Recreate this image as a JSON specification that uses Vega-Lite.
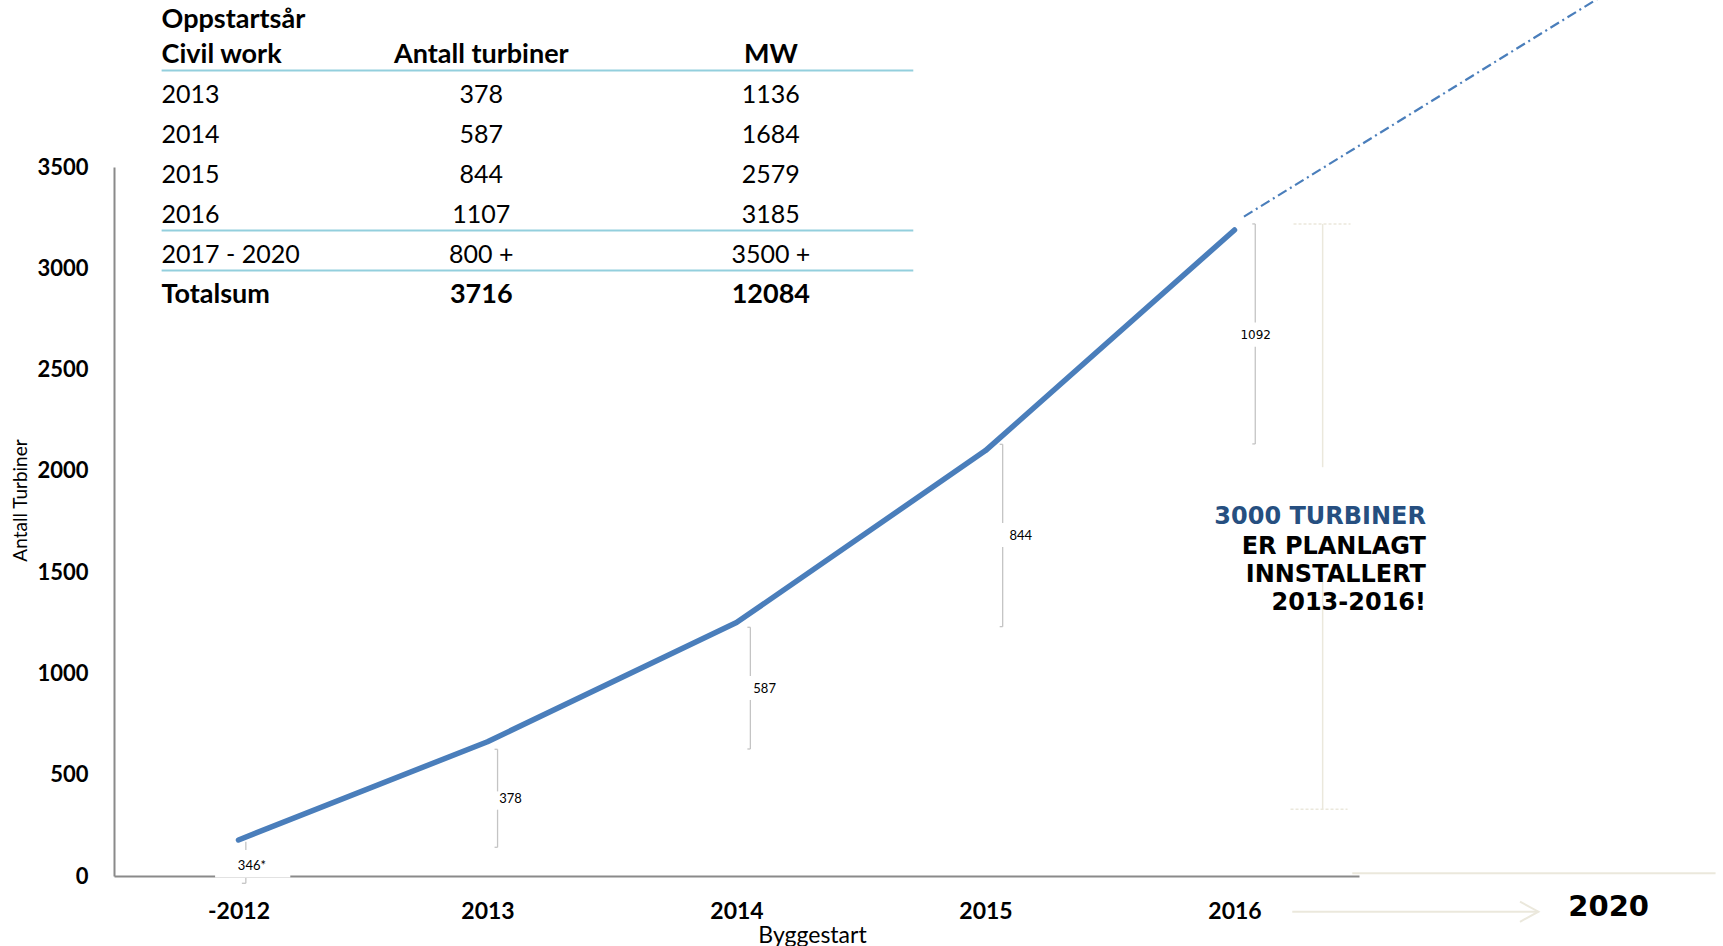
{
  "$schema": "https://vega.github.io/schema/vega-lite/v6.json",
  "width": 1245,
  "height": 709,
  "autosize": {"type": "none"},
  "padding": {"left": 114, "top": 167, "right": 364, "bottom": 70},
  "background": "white",
  "config": {"view": {"stroke": null}, "font": "Lato"},
  "datasets": {
    "trend": [
      {"start": "-2012", "pos": 0, "turbiner": 178},
      {"start": "2013", "pos": 1, "turbiner": 663},
      {"start": "2014", "pos": 2, "turbiner": 1251},
      {"start": "2015", "pos": 3, "turbiner": 2100},
      {"start": "2016", "pos": 4, "turbiner": 3189}
    ],
    "projection": [
      {"pos": 4.038, "turbiner": 3255},
      {"pos": 5.55, "turbiner": 4400}
    ],
    "bracketSegs": [
      {"label": "346*", "pos": 0.0295, "from": 169, "to": -36},
      {"label": "378", "pos": 1.0404, "from": 625.5, "to": 417.7},
      {"label": "378", "pos": 1.0404, "from": 327.4, "to": 141.7},
      {"label": "587", "pos": 2.0557, "from": 1227.8, "to": 987.4},
      {"label": "587", "pos": 2.0557, "from": 869, "to": 627},
      {"label": "844", "pos": 3.069, "from": 2131, "to": 1743},
      {"label": "844", "pos": 3.069, "from": 1624, "to": 1231},
      {"label": "1092", "pos": 4.0834, "from": 3219, "to": 2732},
      {"label": "1092", "pos": 4.0834, "from": 2613, "to": 2133}
    ],
    "bracketCaps": [
      {"label": "346*", "x1": 0.0135, "x2": 0.0295, "v": -36},
      {"label": "378", "x1": 1.0284, "x2": 1.0404, "v": 625.5},
      {"label": "378", "x1": 1.0284, "x2": 1.0404, "v": 141.7},
      {"label": "587", "x1": 2.0437, "x2": 2.0557, "v": 1227.8},
      {"label": "587", "x1": 2.0437, "x2": 2.0557, "v": 627},
      {"label": "844", "x1": 3.057, "x2": 3.069, "v": 2131},
      {"label": "844", "x1": 3.057, "x2": 3.069, "v": 1231},
      {"label": "1092", "x1": 4.0714, "x2": 4.0834, "v": 3219},
      {"label": "1092", "x1": 4.0714, "x2": 4.0834, "v": 2133}
    ],
    "bracketLabels": [
      {"label": "346*", "pos": 0.054, "v": 49},
      {"label": "378", "pos": 1.047, "v": 380},
      {"label": "587", "pos": 2.0675, "v": 923},
      {"label": "844", "pos": 3.0965, "v": 1679},
      {"label": "1092", "pos": 4.085, "v": 2672}
    ],
    "planSegs": [
      {"pos": 4.354, "from": 3219, "to": 2018},
      {"pos": 4.354, "from": 1471, "to": 329}
    ],
    "planCaps": [
      {"x1": 4.237, "x2": 4.466, "v": 3219},
      {"x1": 4.225, "x2": 4.454, "v": 329}
    ],
    "futureLines": [
      {"part": "axis", "x1": 4.473, "x2": 5.932, "v": 13},
      {"part": "arrow", "x1": 4.232, "x2": 5.2205, "v": -176}
    ],
    "chevron": [
      {"o": 0, "pos": 5.1465, "v": -127},
      {"o": 1, "pos": 5.2205, "v": -176},
      {"o": 2, "pos": 5.1465, "v": -226}
    ],
    "note": [
      {"text": "3000 TURBINER", "v": 1774, "tone": "accent"},
      {"text": "ER PLANLAGT", "v": 1626, "tone": "plain"},
      {"text": "INNSTALLERT", "v": 1486, "tone": "plain"},
      {"text": "2013-2016!", "v": 1346, "tone": "plain"}
    ],
    "table": [
      {"row": 0.125, "c0": "Oppstartsår", "c1": "", "c2": "", "head": true},
      {"row": 1, "c0": "Civil work", "c1": "Antall turbiner", "c2": "MW", "head": true},
      {"row": 2, "c0": "2013", "c1": "378", "c2": "1136", "head": false},
      {"row": 3, "c0": "2014", "c1": "587", "c2": "1684", "head": false},
      {"row": 4, "c0": "2015", "c1": "844", "c2": "2579", "head": false},
      {"row": 5, "c0": "2016", "c1": "1107", "c2": "3185", "head": false},
      {"row": 6, "c0": "2017 - 2020", "c1": "800 +", "c2": "3500 +", "head": false},
      {"row": 7, "c0": "Totalsum", "c1": "3716", "c2": "12084", "head": true}
    ],
    "tableLines": [
      {"x1": -0.3088, "x2": 2.71, "row": 1.39},
      {"x1": -0.3088, "x2": 2.71, "row": 5.39},
      {"x1": -0.3088, "x2": 2.71, "row": 6.39}
    ]
  },
  "layer": [
    {
      "layer": [
        {
          "data": {"name": "bracketSegs"},
          "mark": {"type": "rule", "color": "#c4c4c4", "strokeWidth": 1.3},
          "encoding": {
            "x": {"field": "pos", "type": "quantitative", "scale": {"domain": [-0.5, 4.5], "nice": false, "zero": false},
              "axis": {"values": [0, 1, 2, 3, 4], "labelExpr": "['-2012','2013','2014','2015','2016'][datum.value]",
                "grid": false, "ticks": false, "tickSize": 0, "domainColor": "#8a8a8a", "domainWidth": 2,
                "labelFont": "Lato", "labelFontWeight": "bold", "labelFontSize": 23, "labelColor": "#000000",
                "labelBaseline": "middle", "labelPadding": 35, "labelFlush": false, "labelOverlap": false,
                "title": "Byggestart", "titleFont": "Lato", "titleFontWeight": "normal", "titleFontSize": 23, "titleColor": "#000000",
                "titleX": 698, "titleY": 59, "titleBaseline": "middle", "titleAlign": "center"}},
            "y": {"field": "from", "type": "quantitative", "scale": {"domain": [0, 3500], "nice": false, "zero": false},
              "axis": {"values": [0, 500, 1000, 1500, 2000, 2500, 3000, 3500], "format": "d", "grid": false, "ticks": false, "tickSize": 0,
                "domainColor": "#8a8a8a", "domainWidth": 2, "labelFont": "Lato", "labelFontWeight": "bold", "labelFontSize": 22,
                "labelColor": "#000000", "labelPadding": 26, "labelFlush": false, "labelOverlap": false,
                "title": "Antall Turbiner", "titleFont": "Lato", "titleFontWeight": "normal", "titleFontSize": 19, "titleColor": "#000000",
                "titleAngle": -90, "titleX": -94, "titleY": 333, "titleBaseline": "middle", "titleAlign": "center"}},
            "y2": {"field": "to"}
          }
        },
        {
          "data": {"name": "bracketCaps"},
          "mark": {"type": "rule", "color": "#c4c4c4", "strokeWidth": 1.3},
          "encoding": {
            "x": {"field": "x1", "type": "quantitative", "scale": {"domain": [-0.5, 4.5], "nice": false, "zero": false}},
            "x2": {"field": "x2"},
            "y": {"field": "v", "type": "quantitative", "scale": {"domain": [0, 3500], "nice": false, "zero": false}}
          }
        },
        {
          "data": {"values": [{"box": "346*"}]},
          "mark": {"type": "rect", "color": "white"},
          "encoding": {
            "x": {"datum": -0.094, "type": "quantitative", "scale": {"domain": [-0.5, 4.5], "nice": false, "zero": false}},
            "x2": {"datum": 0.208},
            "y": {"datum": 128, "type": "quantitative", "scale": {"domain": [0, 3500], "nice": false, "zero": false}},
            "y2": {"datum": -7}
          }
        },
        {
          "data": {"name": "planSegs"},
          "mark": {"type": "rule", "color": "#ebe8dc", "strokeWidth": 1.5},
          "encoding": {
            "x": {"field": "pos", "type": "quantitative", "scale": {"domain": [-0.5, 4.5], "nice": false, "zero": false}},
            "y": {"field": "from", "type": "quantitative", "scale": {"domain": [0, 3500], "nice": false, "zero": false}},
            "y2": {"field": "to"}
          }
        },
        {
          "data": {"name": "planCaps"},
          "mark": {"type": "rule", "color": "#ebe8dc", "strokeWidth": 1.5, "strokeDash": [3, 2]},
          "encoding": {
            "x": {"field": "x1", "type": "quantitative", "scale": {"domain": [-0.5, 4.5], "nice": false, "zero": false}},
            "x2": {"field": "x2"},
            "y": {"field": "v", "type": "quantitative", "scale": {"domain": [0, 3500], "nice": false, "zero": false}}
          }
        },
        {
          "data": {"name": "futureLines"},
          "mark": {"type": "rule", "color": "#ebe8dc", "strokeWidth": 2},
          "encoding": {
            "x": {"field": "x1", "type": "quantitative", "scale": {"domain": [-0.5, 4.5], "nice": false, "zero": false}},
            "x2": {"field": "x2"},
            "y": {"field": "v", "type": "quantitative", "scale": {"domain": [0, 3500], "nice": false, "zero": false}}
          }
        },
        {
          "data": {"name": "chevron"},
          "mark": {"type": "line", "color": "#ebe8dc", "strokeWidth": 2},
          "encoding": {
            "x": {"field": "pos", "type": "quantitative", "scale": {"domain": [-0.5, 4.5], "nice": false, "zero": false}},
            "y": {"field": "v", "type": "quantitative", "scale": {"domain": [0, 3500], "nice": false, "zero": false}},
            "order": {"field": "o"}
          }
        },
        {
          "data": {"name": "projection"},
          "mark": {"type": "line", "color": "#4a7ebb", "strokeWidth": 2.2, "strokeDash": [10, 4, 2, 4]},
          "encoding": {
            "x": {"field": "pos", "type": "quantitative", "scale": {"domain": [-0.5, 4.5], "nice": false, "zero": false}},
            "y": {"field": "turbiner", "type": "quantitative", "scale": {"domain": [0, 3500], "nice": false, "zero": false}}
          }
        },
        {
          "data": {"name": "trend"},
          "mark": {"type": "line", "color": "#4a7ebb", "strokeWidth": 5.5, "strokeCap": "round", "strokeJoin": "round"},
          "encoding": {
            "x": {"field": "pos", "type": "quantitative", "scale": {"domain": [-0.5, 4.5], "nice": false, "zero": false}},
            "y": {"field": "turbiner", "type": "quantitative", "scale": {"domain": [0, 3500], "nice": false, "zero": false}}
          }
        },
        {
          "data": {"name": "bracketLabels"},
          "transform": [{"filter": "datum.label === '346*'"}],
          "mark": {"type": "text", "font": "Lato", "fontSize": 13, "align": "center", "baseline": "middle", "color": "#000000"},
          "encoding": {
            "x": {"field": "pos", "type": "quantitative", "scale": {"domain": [-0.5, 4.5], "nice": false, "zero": false}},
            "y": {"field": "v", "type": "quantitative", "scale": {"domain": [0, 3500], "nice": false, "zero": false}},
            "text": {"field": "label"}
          }
        },
        {
          "data": {"name": "bracketLabels"},
          "transform": [{"filter": "datum.label === '1092'"}],
          "mark": {"type": "text", "font": "DejaVu Sans", "fontSize": 12, "align": "center", "baseline": "middle", "color": "#000000"},
          "encoding": {
            "x": {"field": "pos", "type": "quantitative", "scale": {"domain": [-0.5, 4.5], "nice": false, "zero": false}},
            "y": {"field": "v", "type": "quantitative", "scale": {"domain": [0, 3500], "nice": false, "zero": false}},
            "text": {"field": "label"}
          }
        },
        {
          "data": {"name": "bracketLabels"},
          "transform": [{"filter": "datum.label !== '346*' && datum.label !== '1092'"}],
          "mark": {"type": "text", "font": "Lato", "fontSize": 13, "align": "left", "baseline": "middle", "color": "#000000"},
          "encoding": {
            "x": {"field": "pos", "type": "quantitative", "scale": {"domain": [-0.5, 4.5], "nice": false, "zero": false}},
            "y": {"field": "v", "type": "quantitative", "scale": {"domain": [0, 3500], "nice": false, "zero": false}},
            "text": {"field": "label"}
          }
        },
        {
          "data": {"name": "note"},
          "mark": {"type": "text", "font": "DejaVu Sans", "fontWeight": "bold", "fontSize": 24, "align": "right", "baseline": "middle"},
          "encoding": {
            "x": {"datum": 4.769, "type": "quantitative", "scale": {"domain": [-0.5, 4.5], "nice": false, "zero": false}},
            "y": {"field": "v", "type": "quantitative", "scale": {"domain": [0, 3500], "nice": false, "zero": false}},
            "text": {"field": "text"},
            "color": {"field": "tone", "type": "nominal", "scale": {"domain": ["accent", "plain"], "range": ["#264f80", "#000000"]}, "legend": null}
          }
        },
        {
          "data": {"values": [{"label": "2020"}]},
          "mark": {"type": "text", "font": "DejaVu Sans", "fontWeight": "bold", "fontSize": 29, "align": "center", "baseline": "middle", "color": "#000000"},
          "encoding": {
            "x": {"datum": 5.5027, "type": "quantitative", "scale": {"domain": [-0.5, 4.5], "nice": false, "zero": false}},
            "y": {"datum": -151.5, "type": "quantitative", "scale": {"domain": [0, 3500], "nice": false, "zero": false}},
            "text": {"field": "label"}
          }
        }
      ]
    },
    {
      "layer": [
        {
          "data": {"name": "tableLines"},
          "mark": {"type": "rule", "color": "#93cfdd", "strokeWidth": 2},
          "encoding": {
            "x": {"field": "x1", "type": "quantitative", "scale": {"domain": [-0.5, 4.5], "nice": false, "zero": false}},
            "x2": {"field": "x2"},
            "y": {"field": "row", "type": "quantitative", "scale": {"domain": [3.8, 21.525], "reverse": true, "nice": false, "zero": false}, "axis": null}
          }
        },
        {
          "data": {"name": "table"},
          "transform": [{"filter": "datum.head"}],
          "mark": {"type": "text", "font": "Lato", "fontWeight": "bold", "fontSize": 27, "align": "left", "baseline": "middle", "color": "#000000"},
          "encoding": {
            "x": {"datum": -0.3088, "type": "quantitative", "scale": {"domain": [-0.5, 4.5], "nice": false, "zero": false}},
            "y": {"field": "row", "type": "quantitative", "scale": {"domain": [3.8, 21.525], "reverse": true, "nice": false, "zero": false}, "axis": null},
            "text": {"field": "c0"}
          }
        },
        {
          "data": {"name": "table"},
          "transform": [{"filter": "!datum.head"}],
          "mark": {"type": "text", "font": "Lato", "fontSize": 25, "align": "left", "baseline": "middle", "color": "#000000"},
          "encoding": {
            "x": {"datum": -0.3088, "type": "quantitative", "scale": {"domain": [-0.5, 4.5], "nice": false, "zero": false}},
            "y": {"field": "row", "type": "quantitative", "scale": {"domain": [3.8, 21.525], "reverse": true, "nice": false, "zero": false}, "axis": null},
            "text": {"field": "c0"}
          }
        },
        {
          "data": {"name": "table"},
          "transform": [{"filter": "datum.head"}],
          "mark": {"type": "text", "font": "Lato", "fontWeight": "bold", "fontSize": 27, "align": "center", "baseline": "middle", "color": "#000000"},
          "encoding": {
            "x": {"datum": 0.975, "type": "quantitative", "scale": {"domain": [-0.5, 4.5], "nice": false, "zero": false}},
            "y": {"field": "row", "type": "quantitative", "scale": {"domain": [3.8, 21.525], "reverse": true, "nice": false, "zero": false}, "axis": null},
            "text": {"field": "c1"}
          }
        },
        {
          "data": {"name": "table"},
          "transform": [{"filter": "!datum.head"}],
          "mark": {"type": "text", "font": "Lato", "fontSize": 25, "align": "center", "baseline": "middle", "color": "#000000"},
          "encoding": {
            "x": {"datum": 0.975, "type": "quantitative", "scale": {"domain": [-0.5, 4.5], "nice": false, "zero": false}},
            "y": {"field": "row", "type": "quantitative", "scale": {"domain": [3.8, 21.525], "reverse": true, "nice": false, "zero": false}, "axis": null},
            "text": {"field": "c1"}
          }
        },
        {
          "data": {"name": "table"},
          "transform": [{"filter": "datum.head"}],
          "mark": {"type": "text", "font": "Lato", "fontWeight": "bold", "fontSize": 27, "align": "center", "baseline": "middle", "color": "#000000"},
          "encoding": {
            "x": {"datum": 2.138, "type": "quantitative", "scale": {"domain": [-0.5, 4.5], "nice": false, "zero": false}},
            "y": {"field": "row", "type": "quantitative", "scale": {"domain": [3.8, 21.525], "reverse": true, "nice": false, "zero": false}, "axis": null},
            "text": {"field": "c2"}
          }
        },
        {
          "data": {"name": "table"},
          "transform": [{"filter": "!datum.head"}],
          "mark": {"type": "text", "font": "Lato", "fontSize": 25, "align": "center", "baseline": "middle", "color": "#000000"},
          "encoding": {
            "x": {"datum": 2.138, "type": "quantitative", "scale": {"domain": [-0.5, 4.5], "nice": false, "zero": false}},
            "y": {"field": "row", "type": "quantitative", "scale": {"domain": [3.8, 21.525], "reverse": true, "nice": false, "zero": false}, "axis": null},
            "text": {"field": "c2"}
          }
        }
      ]
    }
  ],
  "resolve": {"scale": {"y": "independent"}}
}
